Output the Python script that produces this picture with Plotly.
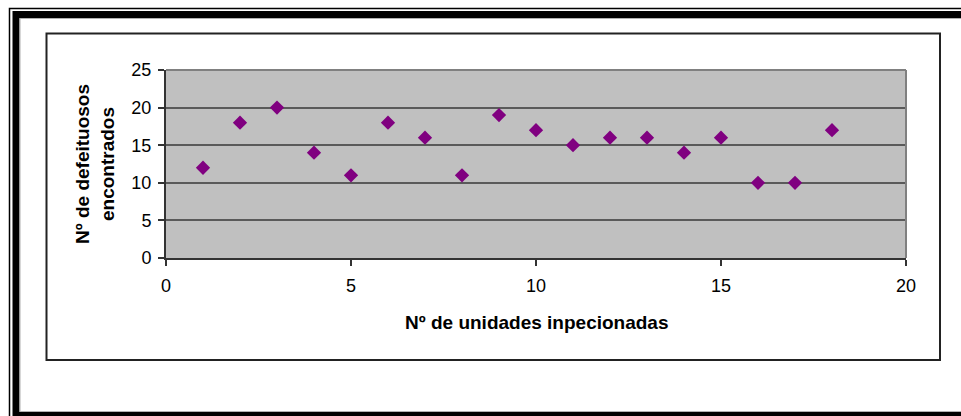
import plotly.graph_objects as go

units = [1, 2, 3, 4, 5, 6, 7, 8, 9, 10, 11, 12, 13, 14, 15, 16, 17, 18]
defects = [12, 18, 20, 14, 11, 18, 16, 11, 19, 17, 15, 16, 16, 14, 16, 10, 10, 17]
x_ticks = [0, 5, 10, 15, 20]
y_ticks = [0, 5, 10, 15, 20, 25]
x_title = "Nº de unidades inpecionadas"
y_title = "Nº de defeituosos<br>encontrados"

W, H = 961, 416
L, R, T, B = 166, 906, 70, 258

def px(x):
    return (x - L) / (R - L)

def py(y):
    return (B - y) / (B - T)

fig = go.Figure()
fig.add_trace(go.Scatter(
    x=units, y=defects, mode="markers",
    marker=dict(symbol="diamond", size=11, color="#800080", line=dict(width=0)),
    showlegend=False, hoverinfo="x+y",
))

font = dict(family="Liberation Sans, Arial, sans-serif", color="#000000")

shapes = [
    # outer thin frame
    dict(type="rect", xref="paper", yref="paper", x0=px(9.5), x1=px(975), y0=py(8.5), y1=py(430),
         line=dict(color="#000000", width=1.5), fillcolor="rgba(0,0,0,0)", layer="above"),
    # outer thick frame
    dict(type="rect", xref="paper", yref="paper", x0=px(16), x1=px(975), y0=py(14.5), y1=py(415.5),
         line=dict(color="#000000", width=7), fillcolor="rgba(0,0,0,0)", layer="above"),
    # thin gray inner line
    dict(type="rect", xref="paper", yref="paper", x0=px(20), x1=px(975), y0=py(18.5), y1=py(411.5),
         line=dict(color="#b0b0b0", width=1), fillcolor="rgba(0,0,0,0)", layer="above"),
    # chart area border
    dict(type="rect", xref="paper", yref="paper", x0=px(46.5), x1=px(940), y0=py(33.5), y1=py(360),
         line=dict(color="#222222", width=2), fillcolor="rgba(0,0,0,0)", layer="below"),
    # plot area top/right gray border
    dict(type="line", xref="paper", yref="paper", x0=0, x1=1, y0=1, y1=1,
         line=dict(color="#808080", width=2), layer="above"),
    dict(type="line", xref="paper", yref="paper", x0=1, x1=1, y0=0, y1=1,
         line=dict(color="#808080", width=2), layer="above"),
]

annotations = [
    dict(text="<b>" + x_title + "</b>", xref="paper", yref="paper",
         x=px(537), y=py(322), showarrow=False, xanchor="center", yanchor="middle",
         font=dict(size=19, **font)),
    dict(text="<b>" + y_title + "</b>", xref="paper", yref="paper",
         x=px(95), y=py(164), showarrow=False, xanchor="center", yanchor="middle",
         textangle=-90, font=dict(size=19, **font)),
]

fig.update_layout(
    width=W, height=H,
    margin=dict(l=L, r=W - R, t=T, b=H - B, pad=0),
    paper_bgcolor="#ffffff",
    plot_bgcolor="#c0c0c0",
    font=dict(size=18, **font),
    shapes=shapes,
    annotations=annotations,
    xaxis=dict(
        range=[0, 20], tickvals=x_ticks, ticktext=[str(v) for v in x_ticks],
        showgrid=False, zeroline=False, showline=True, linecolor="#333333", linewidth=2,
        ticks="outside", ticklen=6, tickwidth=1.5, tickcolor="#333333",
        ticklabelstandoff=4,
        tickfont=dict(size=18, **font), fixedrange=True,
    ),
    yaxis=dict(
        range=[0, 25], tickvals=y_ticks, ticktext=[str(v) for v in y_ticks],
        showgrid=True, gridcolor="#5a5a5a", gridwidth=1.5, zeroline=False,
        showline=True, linecolor="#333333", linewidth=2,
        ticks="outside", ticklen=6, tickwidth=1.5, tickcolor="#333333",
        ticklabelstandoff=3,
        tickfont=dict(size=18, **font), fixedrange=True,
    ),
)

fig.write_html(
    "out.html",
    config={"displayModeBar": False},
    post_script="document.body.style.margin='0px';document.body.style.overflow='hidden';",
)
